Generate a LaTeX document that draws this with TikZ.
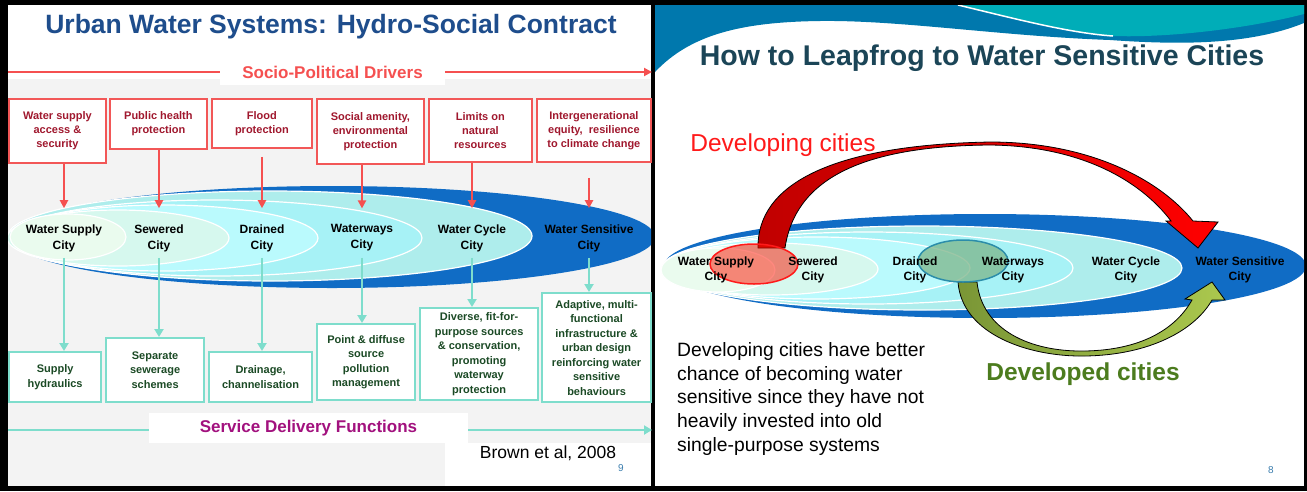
\documentclass[tikz,border=0pt]{standalone}
\usepackage{fontspec}
\setmainfont{Liberation Sans}
\usetikzlibrary{arrows.meta,shapes.geometric}

\definecolor{inkblue}{HTML}{1E4D8C}
\definecolor{drvred}{HTML}{F25757}
\definecolor{drvtext}{HTML}{A0182E}
\definecolor{arrred}{HTML}{F55050}
\definecolor{svc}{HTML}{7EDDCC}
\definecolor{svctext}{HTML}{1B4A25}
\definecolor{svcmag}{HTML}{A2117E}
\definecolor{deepblue}{HTML}{106CC5}
\definecolor{wcyc}{HTML}{AEEDEC}
\definecolor{wway}{HTML}{A7F2F6}
\definecolor{wdrain}{HTML}{BAFAFD}
\definecolor{wsew}{HTML}{D6F8EE}
\definecolor{wsup}{HTML}{EAFBEE}
\definecolor{waveblue}{HTML}{0078AD}
\definecolor{waveteal}{HTML}{00ADB8}
\definecolor{ttlteal}{HTML}{1B4557}
\definecolor{devred}{HTML}{FF1A1A}
\definecolor{devgreen}{HTML}{4C7C1E}
\definecolor{pnum}{HTML}{3B7EAE}
\definecolor{panelgray}{HTML}{F3F3F3}
\definecolor{leapdark}{HTML}{C00000}
\definecolor{leaplight}{HTML}{FF0000}
\definecolor{routedark}{HTML}{7A9636}
\definecolor{routelight}{HTML}{ABC84E}
\definecolor{sage}{HTML}{7DB58A}
\definecolor{sageline}{HTML}{2B8DAA}

\begin{document}
\begin{tikzpicture}[x=1pt,y=-1pt,
  drvbox/.style={draw=drvred, line width=1.8pt, fill=white, align=center, text=drvtext,
    font=\fontsize{11}{14}\selectfont\bfseries, inner sep=1pt, anchor=north west},
  svcbox/.style={draw=svc, line width=2.2pt, fill=white, align=center, text=svctext,
    font=\fontsize{11}{14.5}\selectfont\bfseries, inner sep=1pt, anchor=north west},
  city/.style={align=center, font=\fontsize{12}{16}\selectfont\bfseries, inner sep=1pt},
  cityr/.style={align=center, font=\fontsize{12}{14.5}\selectfont\bfseries, inner sep=1pt},
  redarr/.style={draw=arrred, line width=2pt, -{Triangle[length=8pt,width=8pt]}},
  cyanarr/.style={draw=svc, line width=2.4pt, -{Triangle[length=8pt,width=9pt]}},
  ring/.style={draw=white, line width=1.2pt},
]

% frame and the two slide panels
\fill[black] (0,0) rectangle (1307,491);
\fill[white] (8,5) rectangle (651,486);
\fill[white] (655,5) rectangle (1304,486);

% ===================== left slide =====================
\fill[panelgray] (8,79) rectangle (651,486);
\node[font=\fontsize{26.5}{30}\selectfont\bfseries, text=inkblue] (t1) at (331,27)
  {Urban Water Systems: Hydro-Social Contract};

% socio-political drivers axis
\coordinate (spL) at (8,72);
\coordinate (spR) at (652,72);
\draw[draw=arrred, line width=2.4pt, -{Triangle[length=8pt,width=8pt]}] (spL) -- (spR);
\node[fill=white, minimum width=225pt, minimum height=25pt, inner sep=0,
  font=\fontsize{17}{20}\selectfont\bfseries, text=arrred] (sp) at (332.5,72.5)
  {Socio-Political Drivers};

\begin{scope}
\clip (8,5) rectangle (651,486);
% nested city ellipses
\fill[deepblue] (332,237) ellipse [x radius=323pt, y radius=51pt];
\filldraw[fill=wcyc, ring] (270,236) ellipse [x radius=262pt, y radius=45pt];
\filldraw[fill=wway, ring] (215,238) ellipse [x radius=207pt, y radius=38pt];
\filldraw[fill=wdrain, ring] (163,238) ellipse [x radius=155pt, y radius=33pt];
\filldraw[fill=wsew, ring] (118,238) ellipse [x radius=111pt, y radius=28pt];
\filldraw[fill=wsup, ring] (68,237) ellipse [x radius=58pt, y radius=23pt];
\end{scope}

% driver boxes
\node[drvbox, minimum width=97pt, minimum height=64pt] (d1) at (8,98) {Water supply\\access \&\\security};
\node[drvbox, minimum width=97pt, minimum height=50pt] (d2) at (109,98) {Public health\\protection};
\node[drvbox, minimum width=100pt, minimum height=49pt] (d3) at (211,98) {Flood\\protection};
\node[drvbox, minimum width=107pt, minimum height=65pt] (d4) at (316,98) {Social amenity,\\environmental\\protection};
\node[drvbox, minimum width=103pt, minimum height=63pt] (d5) at (428,98) {Limits on\\natural\\resources};
\node[drvbox, minimum width=114pt, minimum height=63pt] (d6) at (536,98) {Intergenerational\\equity,~ resilience\\to climate change};

% city stages
\node[city] (c1) at (64,238) {Water Supply\\City};
\node[city] (c2) at (159,238) {Sewered\\City};
\node[city] (c3) at (262,238) {Drained\\City};
\node[city] (c4) at (362,238) {Waterways\\City};
\node[city] (c5) at (472,238) {Water Cycle\\City};
\node[city] (c6) at (589,238) {Water Sensitive\\City};

% service delivery boxes
\node[svcbox, minimum width=92pt, minimum height=50pt] (s1) at (8,351) {Supply\\hydraulics};
\node[svcbox, minimum width=98pt, minimum height=64pt] (s2) at (105,337) {Separate\\sewerage\\schemes};
\node[svcbox, minimum width=103pt, minimum height=50pt] (s3) at (208,351) {Drainage,\\channelisation};
\node[svcbox, minimum width=98pt, minimum height=76pt] (s4) at (316,323) {Point \& diffuse\\source\\pollution\\management};
\node[svcbox, minimum width=118pt, minimum height=92pt] (s5) at (419,307) {Diverse, fit-for-\\purpose sources\\\& conservation,\\promoting\\waterway\\protection};
\node[svcbox, minimum width=109pt, minimum height=109pt] (s6) at (541,292) {Adaptive, multi-\\functional\\infrastructure \&\\urban design\\reinforcing water\\sensitive\\behaviours};

% drivers into stages
\draw[redarr] (c1 |- d1.south) -- ([yshift=15pt]c1.north);
\draw[redarr] (c2 |- d2.south) -- ([yshift=15pt]c2.north);
\draw[redarr, shorten <=8pt] (c3 |- d3.south) -- ([yshift=15pt]c3.north);
\draw[redarr] (c4 |- d4.south) -- ([yshift=15pt]c4.north);
\draw[redarr] (c5 |- d5.south) -- ([yshift=15pt]c5.north);
\draw[redarr, shorten <=15pt] (c6 |- d6.south) -- ([yshift=15pt]c6.north);

% stages into service functions
\draw[cyanarr] ([yshift=-5pt]c1.south) -- (c1 |- s1.north);
\draw[cyanarr] ([yshift=-5pt]c2.south) -- (c2 |- s2.north);
\draw[cyanarr] ([yshift=-5pt]c3.south) -- (c3 |- s3.north);
\draw[cyanarr] ([yshift=-5pt]c4.south) -- (c4 |- s4.north);
\draw[cyanarr] ([yshift=-5pt]c5.south) -- (c5 |- s5.north);
\draw[cyanarr] ([yshift=-5pt]c6.south) -- (c6 |- s6.north);

% service delivery axis
\coordinate (sdL) at (8,430);
\coordinate (sdR) at (652,430);
\draw[draw=svc, line width=2.6pt, -{Triangle[length=8pt,width=9pt]}] (sdL) -- (sdR);
\node[fill=white, minimum width=319pt, minimum height=30pt, inner sep=0,
  font=\fontsize{17}{20}\selectfont\bfseries, text=svcmag] (sd) at (308.5,428)
  {Service Delivery Functions};

\fill[white] (445,443) rectangle (651,486);
\node[font=\fontsize{17.5}{20}\selectfont, inner sep=0] (src) at (548,453) {Brown et al, 2008};
\node[font=\fontsize{10}{11}\selectfont, text=pnum, inner sep=0] (pg9) at (621,468) {9};

% ===================== right slide =====================
\begin{scope}
\clip (655,5) rectangle (1304,486);
% header wave
\fill[waveblue] (655,5) -- (1304,5) -- (1304,23)
  .. controls (1250,45) and (1180,45) .. (1110,40)
  .. controls (1000,36) and (900,20) .. (820,21)
  .. controls (740,22) and (690,35) .. (655,72) -- cycle;
\fill[waveteal] (958,5) .. controls (1020,20) and (1070,33) .. (1113,36)
  .. controls (1170,38) and (1250,28) .. (1304,14) -- (1304,5) -- cycle;
\draw[white, line width=1.5pt] (958,5) .. controls (1020,20) and (1070,33) .. (1113,36);

% nested city ellipses
\fill[deepblue] (985,266) ellipse [x radius=321pt, y radius=52pt];
\filldraw[fill=wcyc, ring] (922,268) ellipse [x radius=260pt, y radius=42pt];
\filldraw[fill=wway, ring] (868,268) ellipse [x radius=205pt, y radius=36pt];
\filldraw[fill=wdrain, ring] (816,268) ellipse [x radius=154pt, y radius=31pt];
\filldraw[fill=wsew, ring] (770,269) ellipse [x radius=108pt, y radius=26pt];
\filldraw[fill=wsup, ring] (718,270) ellipse [x radius=57pt, y radius=22pt];
\end{scope}

\node[font=\fontsize{28.5}{32}\selectfont\bfseries, text=ttlteal] (t2) at (982,58)
  {How to Leapfrog to Water Sensitive Cities};

% developing-city leap arrow
\draw[line width=0.8pt, left color=leapdark, right color=leaplight]
  (758,248) .. controls (757,185) and (830,145) .. (990,142)
  .. controls (1090,142) and (1160,180) .. (1193,221)
  -- (1218,222) -- (1198,248) -- (1166,221) -- (1171,221)
  .. controls (1140,180) and (1080,146) .. (990,145)
  .. controls (860,146) and (795,180) .. (785,248) -- cycle;

% developed-city route arrow
\draw[line width=0.8pt, left color=routedark, right color=routelight]
  (958,282) .. controls (962,335) and (1030,357) .. (1085,356)
  .. controls (1150,355) and (1195,330) .. (1212,300)
  -- (1225,300) -- (1212,282) -- (1185,299) -- (1192,300)
  .. controls (1175,330) and (1140,350) .. (1085,351)
  .. controls (1030,352) and (982,330) .. (977,282) -- cycle;

% starting points of the two paths
\filldraw[fill=red!85!orange, fill opacity=0.5, draw=devred, line width=1.5pt]
  (754,264) ellipse [x radius=44pt, y radius=20pt];
\filldraw[fill=sage, fill opacity=0.75, draw=sageline, line width=1.5pt]
  (963,261) ellipse [x radius=45pt, y radius=21pt];

% city stages
\node[cityr] (r1) at (716,270) {Water Supply\\City};
\node[cityr] (r2) at (813,270) {Sewered\\City};
\node[cityr] (r3) at (915,270) {Drained\\City};
\node[cityr] (r4) at (1013,270) {Waterways\\City};
\node[cityr] (r5) at (1126,270) {Water Cycle\\City};
\node[cityr] (r6) at (1240,270) {Water Sensitive\\City};

\node[font=\fontsize{24.5}{28}\selectfont, text=devred, inner sep=0] (lbdev) at (783,145) {Developing cities};
\node[font=\fontsize{24.5}{28}\selectfont\bfseries, text=devgreen, inner sep=0] (lbdvd) at (1083,374) {Developed cities};

\node[anchor=west, align=left, font=\fontsize{19.3}{23.8}\selectfont, inner sep=0] (para) at (677,399)
  {Developing cities have better\\chance of becoming water\\sensitive since they have not\\heavily invested into old\\single-purpose systems};

\node[font=\fontsize{10}{11}\selectfont, text=pnum, inner sep=0] (pg8) at (1271,470) {8};

\end{tikzpicture}
\end{document}
